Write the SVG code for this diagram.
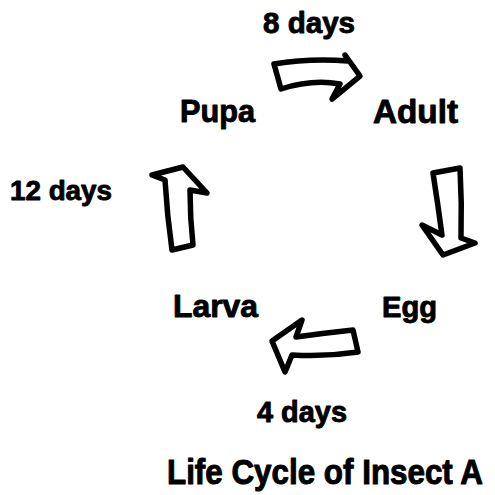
<svg xmlns="http://www.w3.org/2000/svg" width="495" height="495" viewBox="0 0 495 495">
<style>
.t{font-family:"Liberation Sans",Arial,sans-serif;font-weight:bold;fill:#000;stroke:#000;stroke-width:0.9;stroke-linejoin:round}
.a{fill:#fff;stroke:#000;stroke-width:5.5;stroke-linejoin:round}
</style>
<rect width="495" height="495" fill="#fff"/>
<g id="connectors">
<path class="a" d="M274,64 Q310,58 348,61 L345,55 L360,76 L332,99 L340,84 Q312,79 281,89 Z"/>
<path class="a" d="M433,173 Q438,205 442,235 L422,225 L443,255 L475,243 L461,238 Q462,203 460,168 Z"/>
<path class="a" d="M302,320 L272,341 L285,372 L292,355 Q325,357 358,352 L353,330 Q325,333 296,337 Z"/>
<path class="a" d="M183,167 L152,175 L165,180 Q167,215 172,250 L193,245 Q190,218 190,190 L207,193 Z"/>
<text class="t" x="263" y="33" font-size="29.5" textLength="92" lengthAdjust="spacingAndGlyphs">8 days</text>
<text class="t" x="10" y="200" font-size="28" textLength="102" lengthAdjust="spacingAndGlyphs">12 days</text>
<text class="t" x="257" y="422" font-size="29" textLength="90" lengthAdjust="spacingAndGlyphs">4 days</text>
</g>
<g id="adult"><text class="t" x="373" y="123" font-size="33" textLength="85" lengthAdjust="spacingAndGlyphs">Adult</text></g>
<g id="egg"><text class="t" x="382" y="317" font-size="30" textLength="55" lengthAdjust="spacingAndGlyphs">Egg</text></g>
<g id="larva"><text class="t" x="173" y="317" font-size="32" textLength="85" lengthAdjust="spacingAndGlyphs">Larva</text></g>
<g id="pupa"><text class="t" x="180" y="122" font-size="31" textLength="75" lengthAdjust="spacingAndGlyphs">Pupa</text></g>
<g id="title"><text class="t" x="167" y="484" font-size="31.3" textLength="316" lengthAdjust="spacingAndGlyphs" transform="translate(0,484) scale(1,1.12) translate(0,-484)">Life Cycle of Insect A</text></g>
</svg>
